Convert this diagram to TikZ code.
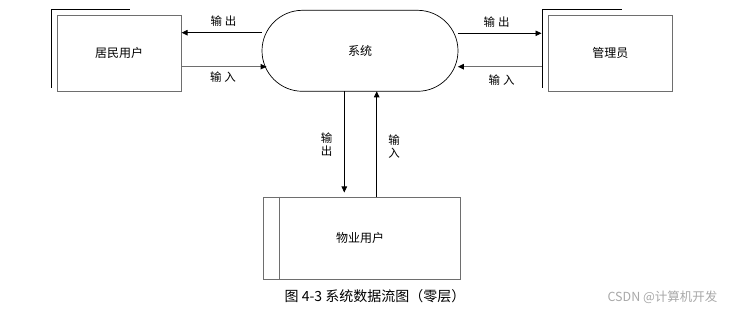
\documentclass[tikz,border=0pt]{standalone}
\usepackage{fontspec}
\newfontfamily\cjk{Noto Sans CJK SC}
\usetikzlibrary{arrows.meta,shapes.misc}
\definecolor{boxgray}{HTML}{6E6E6E}
\definecolor{wmgray}{HTML}{A8A8A8}
\begin{document}
\begin{tikzpicture}[x=1pt,y=-1pt,
  lbl/.style={font=\cjk\fontsize{11.5}{13}\selectfont,inner sep=0pt},
  ent/.style={draw=boxgray,line width=0.9pt,font=\cjk\fontsize{12}{14}\selectfont},
  shadowline/.style={draw=black,line width=0.8pt},
  flow/.style={line width=0.8pt,-{Triangle[length=6pt,width=5.5pt,color=black]}},
  flowg/.style={flow,draw=boxgray,line width=1pt}
]
\useasboundingbox (0,0) rectangle (731,312);
% left entity
\node[ent,minimum width=124pt,minimum height=75.7pt,anchor=north west] (res) at (56.7,15) {居民用户};
\draw[shadowline] (51.7,88) -- (51.7,9.5) -- (130,9.5);
% right entity
\node[ent,minimum width=123.7pt,minimum height=75.7pt,anchor=north west] (adm) at (548,15) {管理员};
\draw[shadowline] (542.3,88) -- (542.3,9.5) -- (621.7,9.5);
% system
\node[draw,line width=0.7pt,rounded rectangle,minimum width=196pt,minimum height=81pt,font=\cjk\fontsize{12}{14}\selectfont,inner sep=0pt] (sys) at (360,50.8) {系统};
% bottom entity
\node[ent,minimum width=197.3pt,minimum height=82.6pt,anchor=north west] (wy) at (262.7,196.7) {};
\node[font=\cjk\fontsize{12}{14}\selectfont] (wyt) at (360,238) {物业用户};
\draw[boxgray,line width=0.9pt] (279.3,196.7) -- (279.3,279.3);
% coordinates
\coordinate (a1) at (262,32.7);
\coordinate (a1e) at (res.east |- a1);
\coordinate (a2) at (266.5,66.7);
\coordinate (a2s) at (res.east |- a2);
\coordinate (b1) at (457.8,33.3);
\coordinate (b1e) at (541.5,33.3);
\coordinate (b2) at (457.8,66.7);
\coordinate (b2s) at (541.5,66.7);
\coordinate (c1) at (344.3,91.3);
\coordinate (c1e) at (344.3,192.5);
\coordinate (c2) at (376.7,91.3);
\coordinate (c2s) at (376.7,196.7);
% flows
\draw[flow] (a1) -- (a1e);
\draw[flowg] (a2s) -- (a2);
\draw[flow] (b1) -- (b1e);
\draw[flowg] (b2s) -- (b2);
\draw[flow] (c1) -- (c1e);
\draw[flow] (c2s) -- (c2);
% labels
\node[lbl] (l1) at (223.5,21) {输\hspace{3pt}出};
\node[lbl] (l2) at (223,77) {输\hspace{3pt}入};
\node[lbl] (l3) at (496.7,22.5) {输\hspace{3pt}出};
\node[lbl] (l4) at (501.7,80) {输\hspace{3pt}入};
\node[lbl,align=center] (l5) at (326.7,145) {输\\出};
\node[lbl,align=center] (l6) at (394,146.7) {输\\入};
% caption
\node[font=\cjk\fontsize{14}{16}\selectfont,inner sep=0pt] (cap) at (375,296) {图 4-3 系统数据流图（零层）};
\node[font=\cjk\fontsize{12.5}{14}\selectfont,text=wmgray,inner sep=0pt] (wm) at (662.5,297) {CSDN @计算机开发};
\end{tikzpicture}
\end{document}
